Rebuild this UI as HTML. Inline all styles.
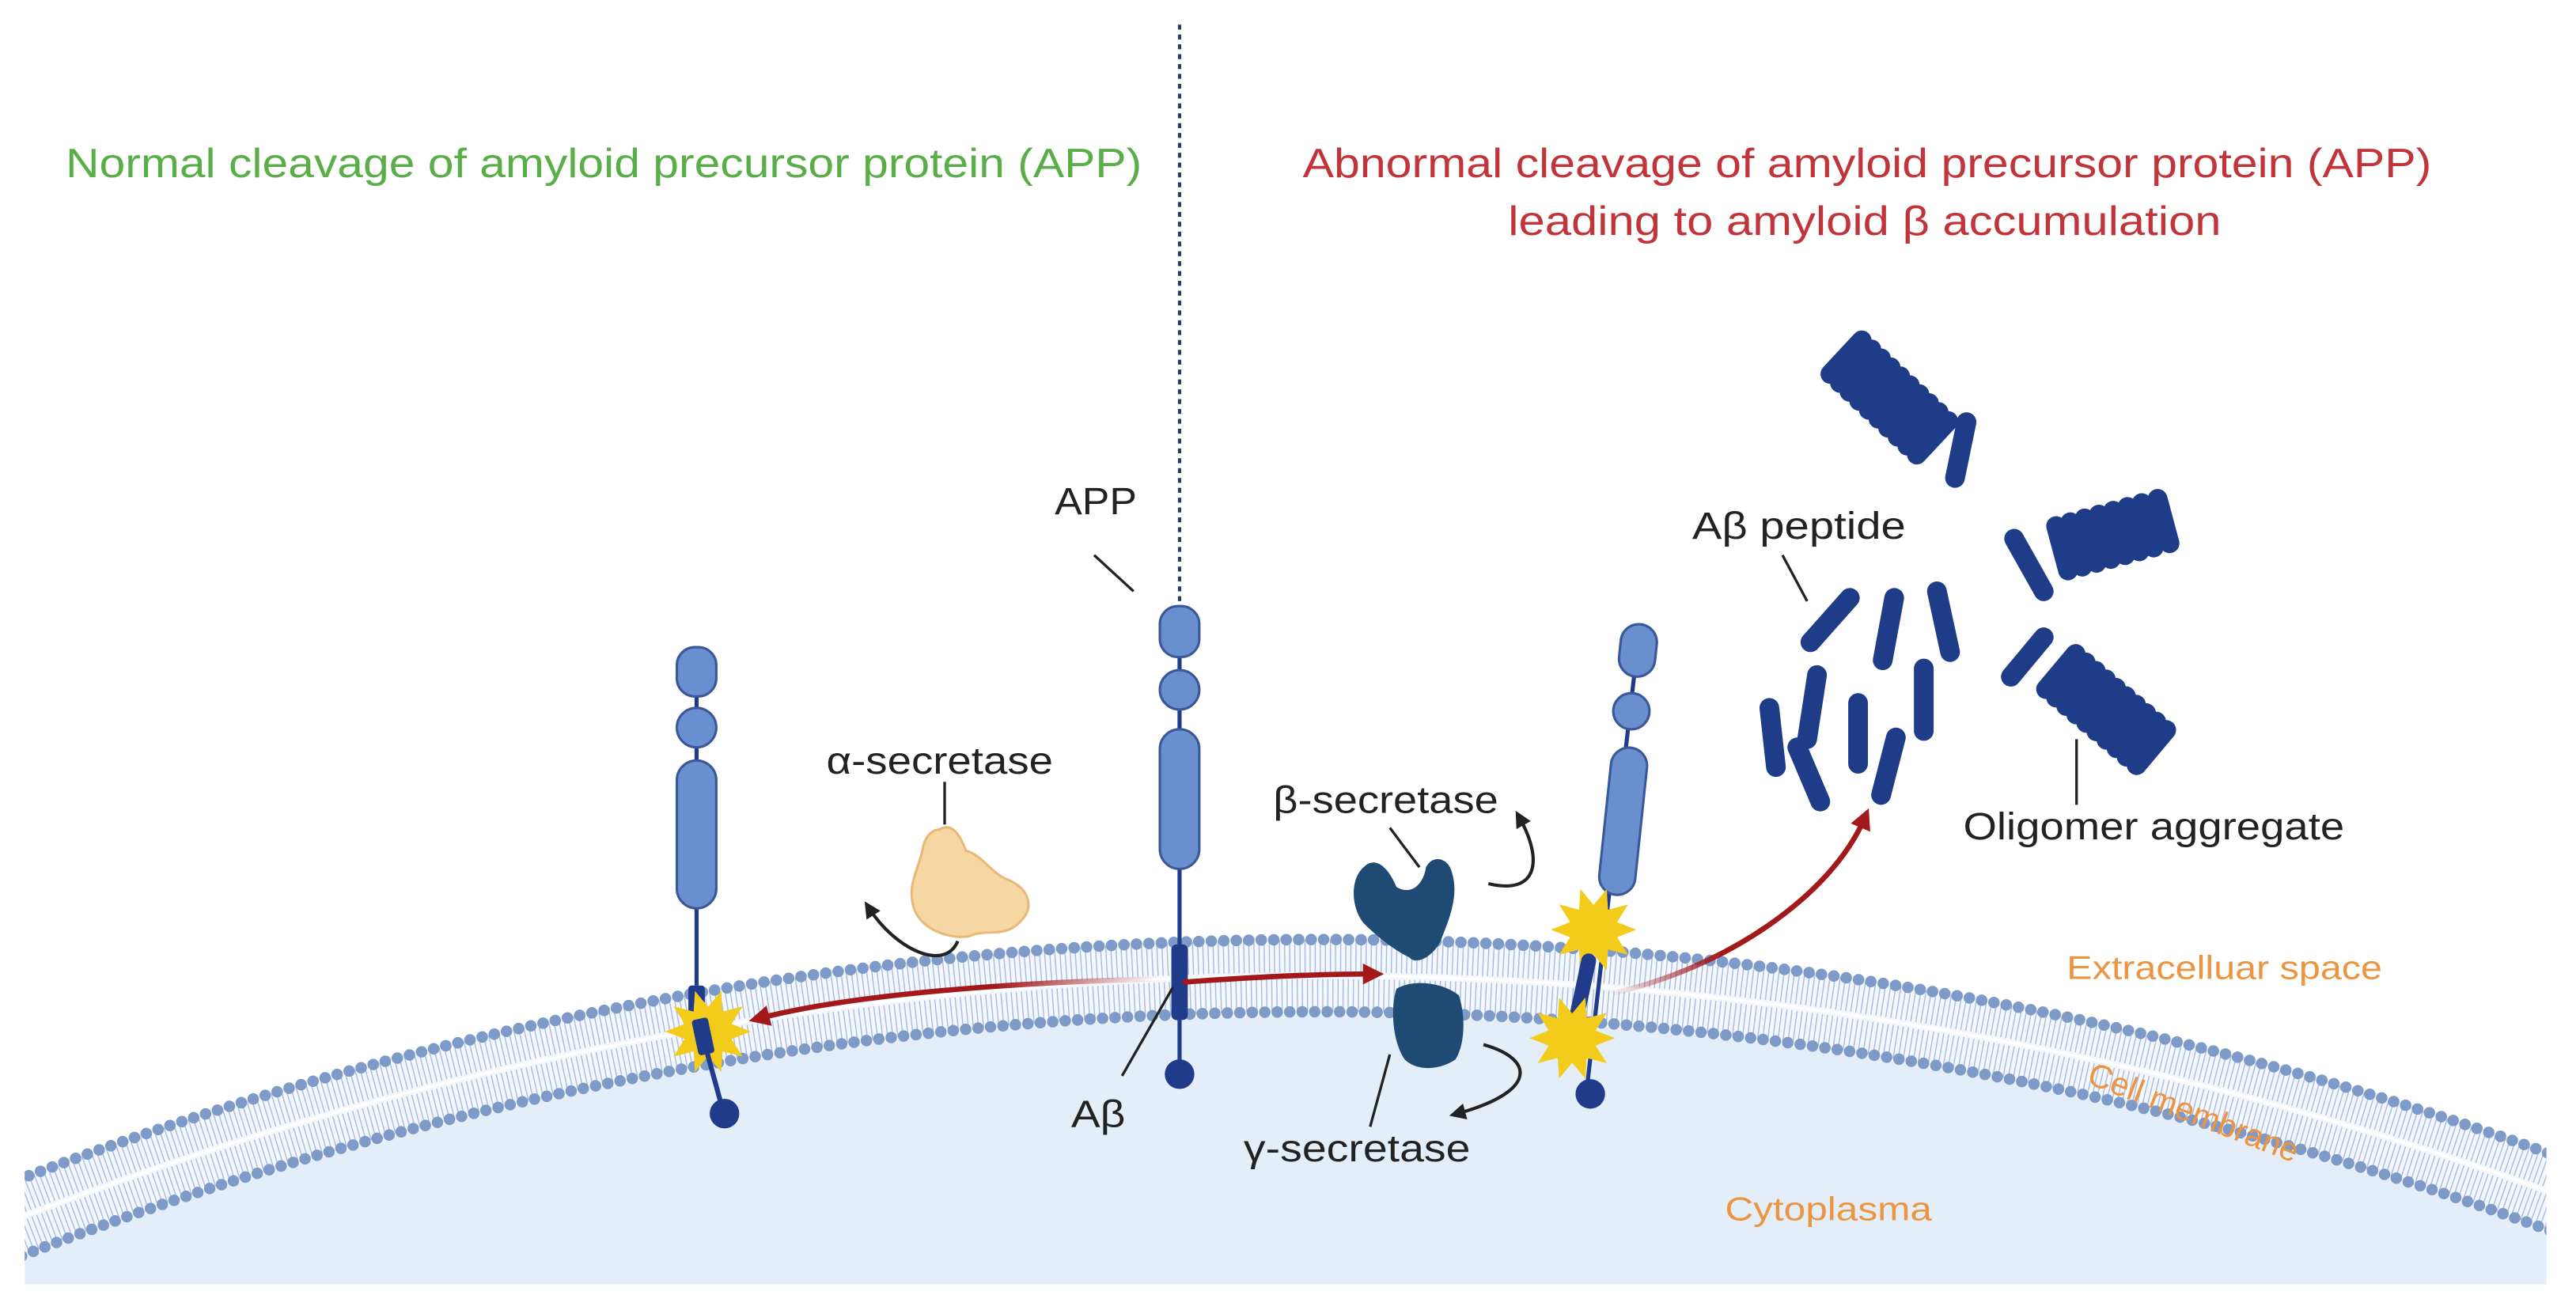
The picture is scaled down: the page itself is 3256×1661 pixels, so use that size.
<!DOCTYPE html>
<html><head><meta charset="utf-8"><style>
html,body{margin:0;padding:0;background:#fff;overflow:hidden;width:3256px;height:1661px}
svg{display:block}
text{font-family:"Liberation Sans",sans-serif}
</style></head><body>
<svg width="3256" height="1661" viewBox="0 0 1568 800" preserveAspectRatio="none" xmlns="http://www.w3.org/2000/svg">
<defs>
<clipPath id="cp"><rect x="15" y="0" width="1535" height="782"/></clipPath>
<marker id="ab" viewBox="0 0 10 10" refX="5" refY="5" markerWidth="5" markerHeight="5" orient="auto-start-reverse"><path d="M0,0 L10,5 L0,10 z" fill="#222"/></marker>
<marker id="ar" viewBox="0 0 10 10" refX="5" refY="5" markerWidth="4" markerHeight="4" orient="auto-start-reverse"><path d="M0,0 L10,5 L0,10 z" fill="#a3191b"/></marker>
<linearGradient id="g1" x1="455" y1="0" x2="705" y2="0" gradientUnits="userSpaceOnUse"><stop offset="0" stop-color="#a3191b"/><stop offset="0.6" stop-color="#a3191b"/><stop offset="1" stop-color="#a3191b" stop-opacity="0"/></linearGradient>
<linearGradient id="g2" x1="980" y1="605" x2="1140" y2="490" gradientUnits="userSpaceOnUse"><stop offset="0" stop-color="#a3191b" stop-opacity="0"/><stop offset="0.35" stop-color="#a3191b"/><stop offset="1" stop-color="#a3191b"/></linearGradient>
<polygon id="star" fill="#f2cb1b" points="26,0 14.3,4.6 21,15.3 8.8,12.1 8,24.7 0,15 -8,24.7 -8.8,12.1 -21,15.3 -14.3,4.6 -26,0 -14.3,-4.6 -21,-15.3 -8.8,-12.1 -8,-24.7 0,-15 8,-24.7 8.8,-12.1 21,-15.3 14.3,-4.6"/>
<rect id="rod" x="-6" y="-20" width="12" height="40" rx="6" fill="#1f3c88"/>
</defs>

<g clip-path="url(#cp)">
<circle cx="803" cy="2789" r="2171" fill="#e4eef9"/>
<circle cx="803" cy="2789" r="2195" fill="none" stroke="#f4f7fc" stroke-width="48"/>
<circle cx="803" cy="2789" r="2207" fill="none" stroke="#a9bde2" stroke-width="20" stroke-dasharray="0.7 2.4"/>
<circle cx="803" cy="2789" r="2183" fill="none" stroke="#a9bde2" stroke-width="20" stroke-dasharray="0.7 2.4"/>
<circle cx="803" cy="2789" r="2195" fill="none" stroke="#fff" stroke-width="1.6"/>
<circle cx="803" cy="2789" r="2217" fill="none" stroke="#7d9ac8" stroke-width="7" stroke-linecap="round" stroke-dasharray="0 7.6"/>
<circle cx="803" cy="2789" r="2173" fill="none" stroke="#7d9ac8" stroke-width="7" stroke-linecap="round" stroke-dasharray="0 7.6"/>
</g>
<rect x="0" y="782" width="1568" height="18" fill="#fff"/>

<line x1="718" y1="15" x2="718" y2="370" stroke="#2b3a5c" stroke-width="2" stroke-dasharray="3 3"/>

<text x="40" y="108" font-size="25" fill="#5aae47" textLength="655" lengthAdjust="spacingAndGlyphs">Normal cleavage of amyloid precursor protein (APP)</text>
<text x="793" y="108" font-size="25" fill="#c0343a" textLength="687" lengthAdjust="spacingAndGlyphs">Abnormal cleavage of amyloid precursor protein (APP)</text>
<text x="918" y="143" font-size="25" fill="#c0343a" textLength="434" lengthAdjust="spacingAndGlyphs">leading to amyloid β accumulation</text>

<g stroke="#3a5898" stroke-width="1.5" fill="#6a8fcf">
<line x1="424" y1="420" x2="424" y2="600" stroke="#1f3b8a" stroke-width="2.5"/>
<rect x="412" y="394" width="24" height="30" rx="11"/>
<circle cx="424" cy="443" r="12"/>
<rect x="412" y="463" width="24" height="90" rx="12"/>
</g>
<rect x="419" y="600" width="10" height="20" rx="2" fill="#1f3b8a"/>
<use href="#star" x="431" y="628"/>
<line x1="428" y1="632" x2="440" y2="676" stroke="#1f3b8a" stroke-width="3"/>
<rect x="423" y="620" width="10" height="22" rx="2" fill="#1f3b8a" transform="rotate(-12 428 631)"/>
<circle cx="441" cy="678" r="9" fill="#1f3b8a"/>

<g stroke="#3a5898" stroke-width="1.5" fill="#6a8fcf">
<line x1="718" y1="390" x2="718" y2="650" stroke="#1f3b8a" stroke-width="2.5"/>
<rect x="706" y="369" width="24" height="31" rx="11"/>
<circle cx="718" cy="420" r="12"/>
<rect x="706" y="444" width="24" height="85" rx="12"/>
</g>
<rect x="713" y="575" width="10" height="46" rx="3" fill="#1f3b8a"/>
<circle cx="718" cy="654" r="9" fill="#1f3b8a"/>
<text x="642" y="313" font-size="23" fill="#222" textLength="50" lengthAdjust="spacingAndGlyphs">APP</text>
<line x1="666" y1="338" x2="690" y2="360" stroke="#222" stroke-width="1.6"/>
<text x="652" y="686" font-size="23" fill="#222" textLength="33" lengthAdjust="spacingAndGlyphs">Aβ</text>
<line x1="683" y1="655" x2="714" y2="601" stroke="#222" stroke-width="1.6"/>

<text x="503" y="471" font-size="23" fill="#222" textLength="138" lengthAdjust="spacingAndGlyphs">α-secretase</text>
<line x1="575" y1="476" x2="575" y2="502" stroke="#222" stroke-width="1.6"/>
<path d="M572,505 C580,500 585,510 588,518 C597,520 602,530 612,535 C626,540 630,552 622,560 C612,572 600,565 590,570 C578,572 560,566 556,552 C552,538 560,528 562,515 C564,508 568,505 572,505 Z" fill="#f6d6a2" stroke="#e8b978" stroke-width="1.5"/>
<path d="M583,573 C575,592 545,578 529,553" fill="none" stroke="#222" stroke-width="2" marker-end="url(#ab)"/>

<path d="M705,596 C620,598 520,605 462,620" fill="none" stroke="url(#g1)" stroke-width="3.2" marker-end="url(#ar)"/>
<path d="M720,598 C760,595 800,593 836,593" fill="none" stroke="#a3191b" stroke-width="3.2" marker-end="url(#ar)"/>
<path d="M980,605 C1050,590 1115,545 1135,498" fill="none" stroke="url(#g2)" stroke-width="3.2" marker-end="url(#ar)"/>

<text x="775" y="495" font-size="23" fill="#222" textLength="137" lengthAdjust="spacingAndGlyphs">β-secretase</text>
<line x1="846" y1="504" x2="864" y2="528" stroke="#222" stroke-width="1.6"/>
<path d="M830,528 C838,520 846,530 850,540 C858,545 866,540 868,528 C872,520 882,522 884,532 C888,545 882,560 878,570 C874,582 862,588 858,583 C848,578 838,570 830,562 C822,552 822,535 830,528 Z" fill="#1e4a74"/>
<path d="M850,602 C860,596 878,598 888,606 C892,618 892,635 886,645 C876,652 862,652 855,645 C848,635 846,615 850,602 Z" fill="#1e4a74"/>
<path d="M906,538 C935,545 940,525 925,498" fill="none" stroke="#222" stroke-width="2" marker-end="url(#ab)"/>
<path d="M903,636 C935,645 935,665 887,678" fill="none" stroke="#222" stroke-width="2" marker-end="url(#ab)"/>
<text x="757" y="707" font-size="23" fill="#222" textLength="138" lengthAdjust="spacingAndGlyphs">γ-secretase</text>
<line x1="846" y1="642" x2="834" y2="686" stroke="#222" stroke-width="1.6"/>

<line x1="996" y1="400" x2="966" y2="662" stroke="#1f3b8a" stroke-width="2.5"/>
<g stroke="#3a5898" stroke-width="1.5" fill="#6a8fcf">
<rect x="986" y="380" width="22" height="32" rx="11" transform="rotate(6 997 396)"/>
<circle cx="993" cy="433" r="11"/>
<rect x="977" y="455" width="22" height="90" rx="11" transform="rotate(6 988 500)"/>
</g>
<use href="#star" x="970" y="566"/>
<line x1="967" y1="585" x2="958" y2="627" stroke="#1f3b8a" stroke-width="9" stroke-linecap="round"/>
<use href="#star" x="957" y="632"/>
<circle cx="968" cy="666" r="9" fill="#1f3b8a"/>

<g stroke="#1f3c88" stroke-width="12" stroke-linecap="round">
<line x1="1126" y1="364" x2="1102" y2="391"/>
<line x1="1153" y1="364" x2="1146" y2="402"/>
<line x1="1179" y1="360" x2="1187" y2="397"/>
<line x1="1106" y1="411" x2="1100" y2="450"/>
<line x1="1131" y1="428" x2="1131" y2="465"/>
<line x1="1171" y1="407" x2="1171" y2="445"/>
<line x1="1154" y1="449" x2="1145" y2="484"/>
<line x1="1077" y1="431" x2="1081" y2="467"/>
<line x1="1094" y1="455" x2="1108" y2="488"/>
<line x1="1197" y1="257" x2="1190" y2="291"/>
<line x1="1226" y1="328" x2="1244" y2="360"/>
<line x1="1244" y1="388" x2="1224" y2="412"/>
</g>
<g transform="translate(1150,242) rotate(43)">
<use href="#rod" x="-36"/><use href="#rod" x="-28"/><use href="#rod" x="-20"/><use href="#rod" x="-12"/><use href="#rod" x="-4"/><use href="#rod" x="4"/><use href="#rod" x="12"/><use href="#rod" x="20"/><use href="#rod" x="28"/><use href="#rod" x="36"/>
</g>
<g transform="translate(1288,325) rotate(-15)">
<use href="#rod" x="-34"/><use href="#rod" x="-25"/><use href="#rod" x="-16"/><use href="#rod" x="-7"/><use href="#rod" x="2"/><use href="#rod" x="11"/><use href="#rod" x="20"/><use href="#rod" x="30"/>
</g>
<g transform="translate(1282,432) rotate(40)">
<use href="#rod" x="-36"/><use href="#rod" x="-28"/><use href="#rod" x="-20"/><use href="#rod" x="-12"/><use href="#rod" x="-4"/><use href="#rod" x="4"/><use href="#rod" x="12"/><use href="#rod" x="20"/><use href="#rod" x="28"/><use href="#rod" x="36"/>
</g>
<text x="1030" y="328" font-size="23" fill="#222" textLength="130" lengthAdjust="spacingAndGlyphs">Aβ peptide</text>
<line x1="1085" y1="338" x2="1100" y2="366" stroke="#222" stroke-width="1.6"/>
<line x1="1264" y1="450" x2="1264" y2="490" stroke="#222" stroke-width="1.6"/>
<text x="1195" y="511" font-size="23" fill="#222" textLength="232" lengthAdjust="spacingAndGlyphs">Oligomer aggregate</text>

<text x="1258" y="596" font-size="20" fill="#ec9440" textLength="192" lengthAdjust="spacingAndGlyphs">Extracelluar space</text>
<text x="1335" y="684" font-size="20" fill="#ec9440" text-anchor="middle" transform="rotate(21 1335 678)">Cell membrane</text>
<text x="1050" y="743" font-size="20" fill="#ec9440" textLength="126" lengthAdjust="spacingAndGlyphs">Cytoplasma</text>
</svg>
</body></html>
